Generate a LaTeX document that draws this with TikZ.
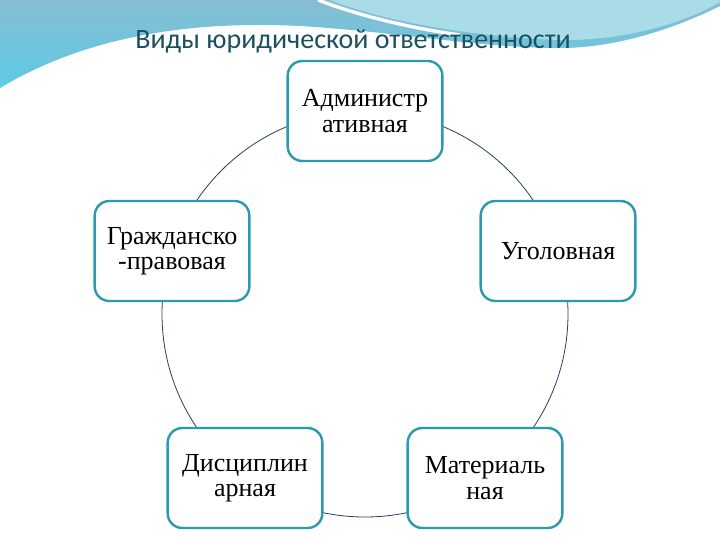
\documentclass[tikz,border=0pt]{standalone}
\usepackage{fontspec}
\setmainfont{Liberation Serif}
\newfontfamily\titlefont{Carlito}
\tikzset{
  rbox/.style={draw=boxline,line width=1.8pt,rounded corners=11pt,fill=white,
    minimum width=116pt,minimum height=75pt,align=center,text=black,
    font=\fontsize{19.5}{19}\selectfont},
  ring/.style={draw=ringline,line width=0.6pt}
}
\begin{document}
\begin{tikzpicture}[x=0.75pt,y=-0.75pt]
\definecolor{boxline}{HTML}{2C9AAE}
\definecolor{ringline}{HTML}{243F60}
\definecolor{titlecol}{HTML}{1C5060}
\definecolor{wavetop}{HTML}{86BDD4}
\definecolor{wavebot}{HTML}{5CCBE3}
\definecolor{wavelight}{HTML}{A9DCE7}
\useasboundingbox (0,0) rectangle (720,540);
\fill[white] (0,0) rectangle (720,540);
% background wave
\shade[top color=wavetop,bottom color=wavebot] (0,0) -- (720,0) -- (720,6)
  .. controls (680,26) and (620,48) .. (560,48)
  .. controls (480,48) and (400,32) .. (300,26)
  .. controls (180,20) and (80,40) .. (0,88) -- cycle;
\fill[wavelight] (330,0) .. controls (380,20) and (470,37) .. (560,40)
  .. controls (630,41) and (690,20) .. (720,2) -- (720,0) -- cycle;
\draw[white,line width=2.5pt] (318,0) .. controls (360,16) and (410,28) .. (460,35);
% title
\node[font=\titlefont\fontsize{21}{22}\selectfont,text=titlecol] (title) at (353,41) {Виды юридической ответственности};
% ring
\coordinate (c) at (365,314);
\draw[ring] (c) circle (152.25pt);
% boxes
\node[rbox] (adm) at (365,111) {Администр\\ативная};
\node[rbox] (grazh) at (172,251) {Гражданско\\-правовая};
\node[rbox] (ugol) at (558,251) {Уголовная};
\node[rbox] (disc) at (245,478) {Дисциплин\\арная};
\node[rbox] (mat) at (485,478) {Материаль\\ная};
\end{tikzpicture}
\end{document}
